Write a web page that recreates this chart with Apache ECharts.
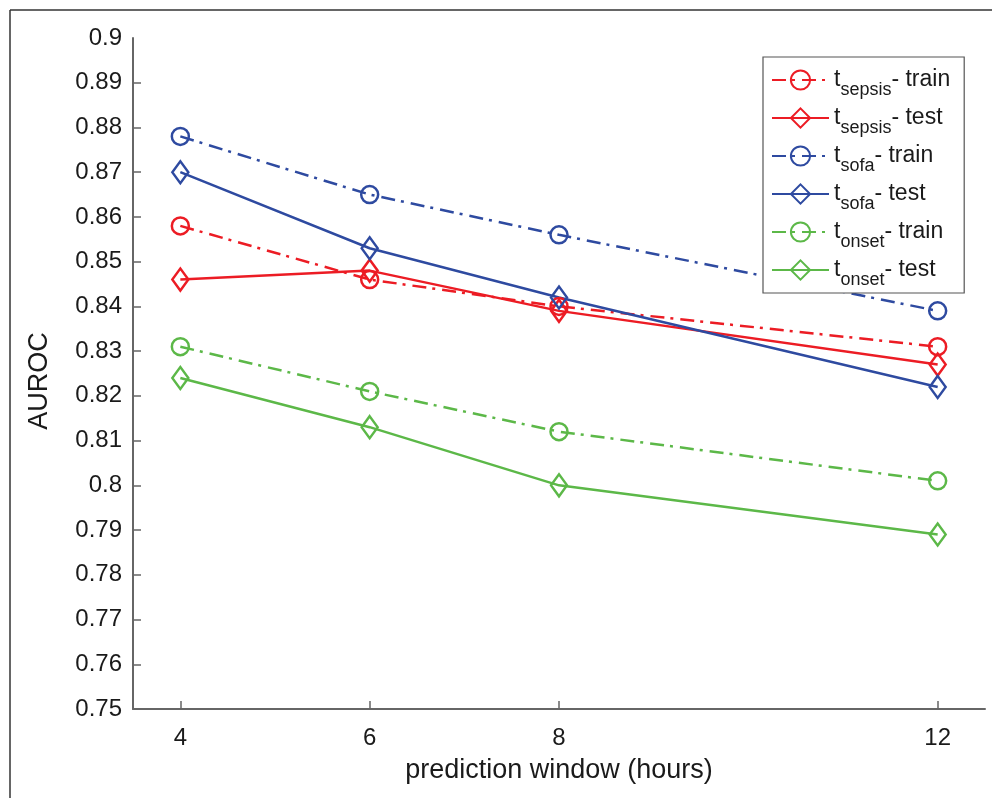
<!DOCTYPE html>
<html><head><meta charset="utf-8">
<script src="https://cdn.jsdelivr.net/npm/echarts@6/dist/echarts.min.js"></script>
<style>html,body{margin:0;padding:0;background:#fff}#c{width:992px;height:798px}</style>
</head><body><div id="c"></div>
<script>
// ---- data ----
const predictionWindows = [4, 6, 8, 12];
const xTickLabels = [4, 6, 8, 12];
const yTickLabels = [0.75, 0.76, 0.77, 0.78, 0.79, 0.8, 0.81, 0.82, 0.83, 0.84, 0.85, 0.86, 0.87, 0.88, 0.89, 0.9];
const seriesNames = ['tsepsis- train', 'tsepsis- test', 'tsofa- train', 'tsofa- test', 'tonset- train', 'tonset- test'];
const legendSub = ['sepsis', 'sepsis', 'sofa', 'sofa', 'onset', 'onset'];
const legendSuffix = ['- train', '- test', '- train', '- test', '- train', '- test'];
const sepsisTrain = [0.858, 0.846, 0.840, 0.831];
const sepsisTest  = [0.846, 0.848, 0.839, 0.827];
const sofaTrain   = [0.878, 0.865, 0.856, 0.839];
const sofaTest    = [0.870, 0.853, 0.842, 0.822];
const onsetTrain  = [0.831, 0.821, 0.812, 0.801];
const onsetTest   = [0.824, 0.813, 0.800, 0.789];

// ---- styling ----
const RED = '#ec1c24', BLUE = '#2e4aa0', GREEN = '#5cb848';
const FONT = 'Liberation Sans, Arial, Helvetica, sans-serif';
const TXT = '#1a1a1a';
const dashDot = [14, 6, 3, 7];
const allValues = [sepsisTrain, sepsisTest, sofaTrain, sofaTest, onsetTrain, onsetTest];
const colors = [RED, RED, BLUE, BLUE, GREEN, GREEN];
const isTrain = [true, false, true, false, true, false];

const series = allValues.map((vals, i) => ({
  name: seriesNames[i],
  type: 'line',
  data: predictionWindows.map((x, j) => [x, vals[j]]),
  symbol: isTrain[i] ? 'circle' : 'diamond',
  symbolSize: isTrain[i] ? 17 : [16, 22],
  showAllSymbol: true,
  lineStyle: { color: colors[i], width: 2.5, type: isTrain[i] ? dashDot : 'solid' },
  itemStyle: { color: 'rgba(255,255,255,0)', borderColor: colors[i], borderWidth: 2.5 },
  emphasis: { disabled: true },
  animation: false
}));

const chart = echarts.init(document.getElementById('c'), null, { renderer: 'canvas' });
chart.setOption({
  backgroundColor: '#fff',
  animation: false,
  textStyle: { fontFamily: FONT },
  grid: { left: 133, right: 7, top: 38, bottom: 89, containLabel: false },
  graphic: [
    { type: 'line', shape: { x1: 10, y1: 10, x2: 992, y2: 10 }, style: { stroke: '#333', lineWidth: 1.5 } },
    { type: 'line', shape: { x1: 10, y1: 10, x2: 10, y2: 798 }, style: { stroke: '#333', lineWidth: 1.5 } }
  ],
  legend: {
    left: 763, top: 57, orient: 'vertical',
    padding: [4, 14, 4, 8],
    itemWidth: 57, itemHeight: 24, itemGap: 0,
    itemTextGap: 7,
    backgroundColor: '#fff',
    borderColor: '#555', borderWidth: 1.2, borderRadius: 0,
    data: seriesNames,
    formatter: function (name) {
      const i = seriesNames.indexOf(name);
      return '{m|t}{s|' + legendSub[i] + '}{m|' + legendSuffix[i] + '}';
    },
    textStyle: {
      fontFamily: FONT, color: TXT,
      rich: {
        m: { fontSize: 23, lineHeight: 23, fontFamily: FONT, color: TXT, verticalAlign: 'middle' },
        s: { fontSize: 18, lineHeight: 18, fontFamily: FONT, color: TXT, padding: [20, 0, 0, 0], verticalAlign: 'middle' }
      }
    }
  },
  xAxis: {
    type: 'value', min: 3.5, max: 12.5,
    name: 'prediction window (hours)', nameLocation: 'middle', nameGap: 48,
    nameTextStyle: { fontSize: 27, color: TXT, fontFamily: FONT },
    axisLine: { show: true, lineStyle: { color: '#666', width: 2 } },
    axisTick: { show: true, inside: true, length: 8, lineStyle: { color: '#666', width: 1.5 }, customValues: xTickLabels },
    axisLabel: { fontSize: 24, color: TXT, margin: 17, fontFamily: FONT, customValues: xTickLabels },
    splitLine: { show: false }
  },
  yAxis: {
    type: 'value', min: 0.75, max: 0.9, interval: 0.01,
    name: 'AUROC', nameLocation: 'middle', nameGap: 80, nameRotate: 90,
    nameTextStyle: { fontSize: 27, color: TXT, fontFamily: FONT, padding: [0, 15, 0, 0] },
    axisLine: { show: true, lineStyle: { color: '#666', width: 2 } },
    axisTick: { show: true, inside: true, length: 8, lineStyle: { color: '#666', width: 1.5 }, customValues: yTickLabels.slice(1, -1) },
    axisLabel: { fontSize: 24, color: TXT, margin: 11, fontFamily: FONT, customValues: yTickLabels,
      formatter: v => String(+(+v).toFixed(2)) },
    splitLine: { show: false }
  },
  series: series
});
</script></body></html>
